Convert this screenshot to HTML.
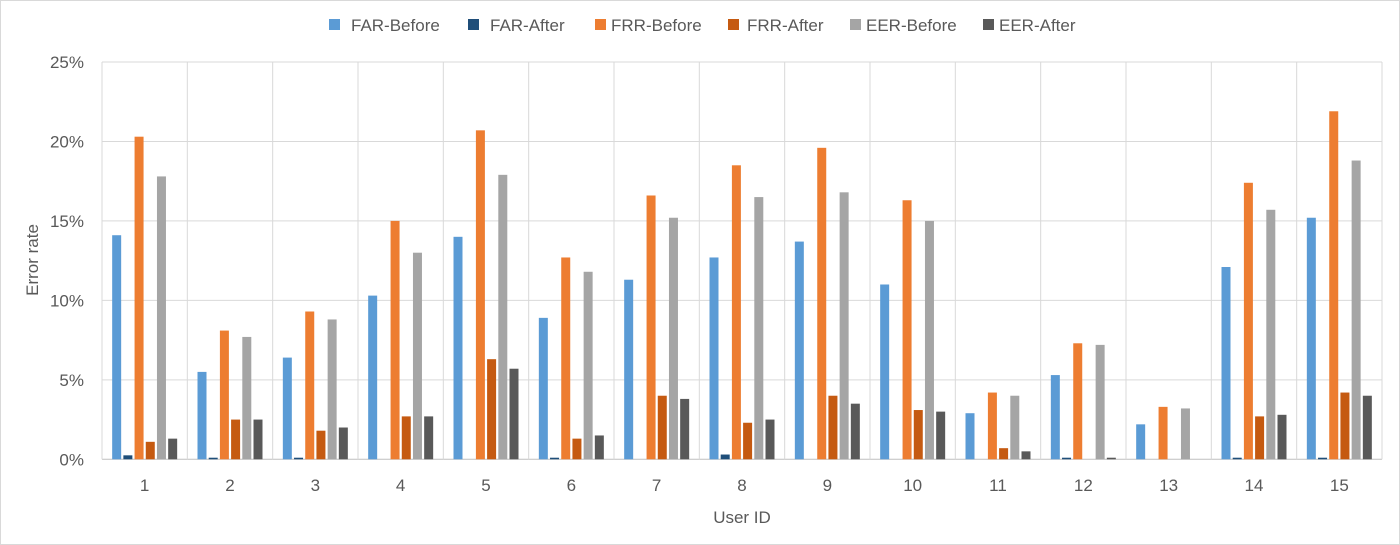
<!DOCTYPE html>
<html><head><meta charset="utf-8"><style>
body{margin:0;background:#fff;}
svg{display:block;font-family:"Liberation Sans",sans-serif;}
</style></head><body>
<svg id="chart" width="1400" height="545">
<rect x="0.5" y="0.5" width="1399" height="544" fill="#fff" stroke="#d9d9d9"/>
<g id="grid"></g><g id="bars"></g><g id="axes"></g><g id="legend"></g>
</svg>
<script>
const categories=["1","2","3","4","5","6","7","8","9","10","11","12","13","14","15"];
const seriesNames=["FAR-Before","FAR-After","FRR-Before","FRR-After","EER-Before","EER-After"];
const seriesColors=["#5b9bd5","#1f4e79","#ed7d31","#c55a11","#a5a5a5","#595959"];
const farBefore=[14.1,5.5,6.4,10.3,14.0,8.9,11.3,12.7,13.7,11.0,2.9,5.3,2.2,12.1,15.2];
const farAfter=[0.25,0.1,0.1,0,0,0.1,0,0.3,0,0,0,0.1,0,0.1,0.1];
const frrBefore=[20.3,8.1,9.3,15.0,20.7,12.7,16.6,18.5,19.6,16.3,4.2,7.3,3.3,17.4,21.9];
const frrAfter=[1.1,2.5,1.8,2.7,6.3,1.3,4.0,2.3,4.0,3.1,0.7,0,0,2.7,4.2];
const eerBefore=[17.8,7.7,8.8,13.0,17.9,11.8,15.2,16.5,16.8,15.0,4.0,7.2,3.2,15.7,18.8];
const eerAfter=[1.3,2.5,2.0,2.7,5.7,1.5,3.8,2.5,3.5,3.0,0.5,0.1,0,2.8,4.0];
const yTicks=[0,5,10,15,20,25];
const series=[farBefore,farAfter,frrBefore,frrAfter,eerBefore,eerAfter];
const NS="http://www.w3.org/2000/svg";
const X0=102,X1=1382,Y0=459.3,Y1=62,YMAX=25;
const gw=(X1-X0)/categories.length;
const y=v=>Y0-(v/YMAX)*(Y0-Y1);
const xg=i=>X0+i*gw;
function mk(tag,attrs,parent,text){const e=document.createElementNS(NS,tag);for(const k in attrs)e.setAttribute(k,attrs[k]);if(text!==undefined)e.textContent=text;document.getElementById(parent).appendChild(e);return e;}
yTicks.forEach(t=>{
 const l=mk('line',{x1:X0,x2:X1,y1:y(t),y2:y(t),stroke:t===0?'#bfbfbf':'#d9d9d9','stroke-width':1},'grid');
 
 
 const tx=mk('text',{x:84,y:y(t)+6,'text-anchor':'end','font-size':17,fill:'#595959'},'axes',t+'%');
 
 
});
for(let i=0;i<=categories.length;i++){
 const l=mk('line',{x1:xg(i),x2:xg(i),y1:Y1,y2:Y0,stroke:'#d9d9d9','stroke-width':1},'grid');
 
 
}
const pitch=11.2,bw=9,off=(gw-6*pitch+ (pitch-bw))/2;
categories.forEach((c,i)=>{
 series.forEach((s,j)=>{
  const v=s[i];
  const r=mk('rect',{x:xg(i)+off+j*pitch,y:y(v),width:bw,height:Math.max(0,Y0-y(v)),fill:seriesColors[j]},'bars');
  
  
 });
 const tx=mk('text',{x:xg(i)+gw/2,y:491,'text-anchor':'middle','font-size':17,fill:'#595959'},'axes',c);
 
 
});
const xt=mk('text',{x:742,y:523,'text-anchor':'middle','font-size':17,fill:'#595959'},'axes','User ID');


const yt=mk('text',{x:0,y:0,'text-anchor':'middle','font-size':17,fill:'#595959',transform:'translate(38,260) rotate(-90)'},'axes','Error rate');


const lx=[351,490,611,747,866,999];
const sx=[329,468,595,728,850,983];
seriesNames.forEach((n,j)=>{
 const g=mk('g',{},'legend');
 
 
 const r=document.createElementNS(NS,'rect');
 r.setAttribute('x',sx[j]);r.setAttribute('y',19);r.setAttribute('width',11);r.setAttribute('height',11);r.setAttribute('fill',seriesColors[j]);
 
 
 g.appendChild(r);
 const t=document.createElementNS(NS,'text');
 t.setAttribute('x',lx[j]);t.setAttribute('y',31);t.setAttribute('font-size',17);t.setAttribute('fill','#595959');t.textContent=n;
 
 
 g.appendChild(t);
});
</script>
</body></html>
